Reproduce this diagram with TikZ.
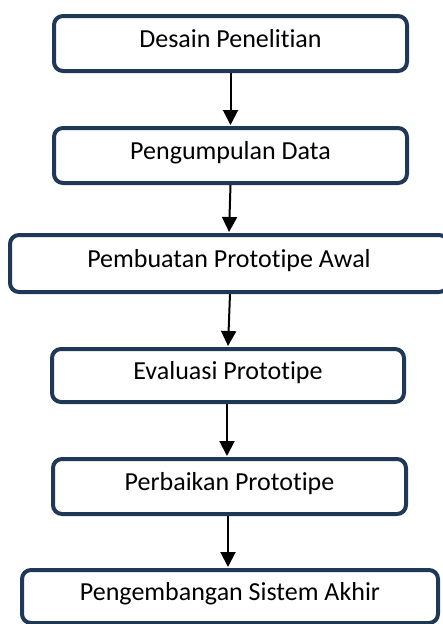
\documentclass[tikz,border=0pt]{standalone}
\usepackage{fontspec}
\setmainfont{Carlito}[RawFeature={-liga;-dlig}]
\usetikzlibrary{arrows.meta}
\definecolor{navy}{HTML}{1F3855}
\tikzset{
  stepbox/.style={draw=navy, line width=4pt, rounded corners=9pt, fill=white,
    inner sep=0pt, align=center, text height=18pt, text depth=10pt,
    font=\fontsize{26}{30}\selectfont},
  flow/.style={line width=2pt, -{Triangle[length=15pt,width=15pt]}, shorten >=1pt}
}
\begin{document}
\begin{tikzpicture}[x=1pt,y=-1pt]
\useasboundingbox (0,0) rectangle (442,624);
\node[stepbox, minimum width=353pt, minimum height=55pt] (b1) at (230.5,43.5) {Desain Penelitian};
\node[stepbox, minimum width=353pt, minimum height=55pt] (b2) at (230.5,155.5) {Pengumpulan Data};
\node[stepbox, minimum width=438pt, minimum height=57pt] (b3) at (229,263.5) {Pembuatan Prototipe Awal};
\node[stepbox, minimum width=352pt, minimum height=53pt] (b4) at (228,375.5) {Evaluasi Prototipe};
\node[stepbox, minimum width=353pt, minimum height=55pt] (b5) at (229.5,486.5) {Perbaikan Prototipe};
\node[stepbox, minimum width=416pt, minimum height=53pt] (b6) at (230,596.5) {Pengembangan Sistem Akhir};
\draw[flow] (b1.south) -- (b2.north);
\draw[flow] (b2.south) -- (b3.north);
\draw[flow] ([xshift=1pt]b3.south) -- (b4.north);
\draw[flow] ([xshift=-1pt]b4.south) -- ([xshift=-1pt]b4.south |- b5.north);
\draw[flow] ([xshift=-1.5pt]b5.south) -- ([xshift=-1.5pt]b5.south |- b6.north);
\end{tikzpicture}
\end{document}
